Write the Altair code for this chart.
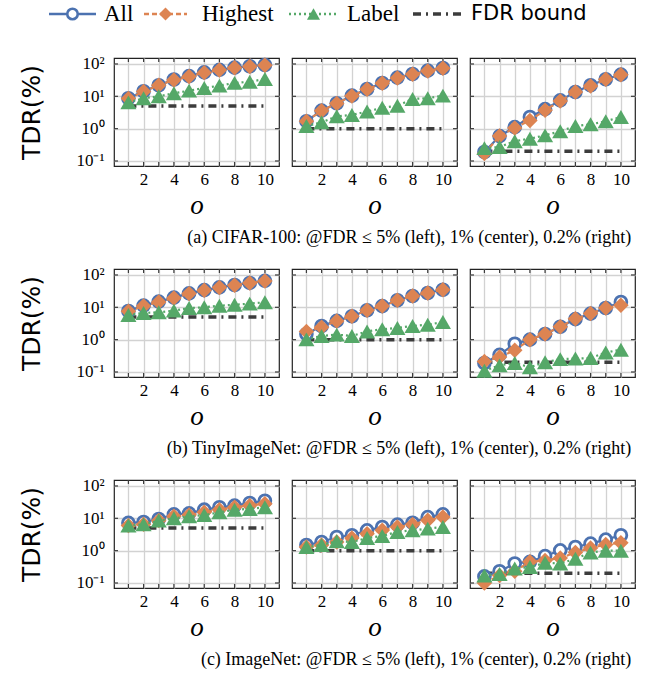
import altair as alt
import pandas as pd

# ---------------- data ----------------
X_VALUES = list(range(1, 11))
Y_TICKS = [0.1, 1, 10, 100]
FDR_BOUNDS = [5, 1, 0.2]
SERIES_NAMES = ["All", "Highest", "Label", "FDR bound"]
CAPTIONS = [
    "(a) CIFAR-100: @FDR ≤ 5% (left), 1% (center), 0.2% (right)",
    "(b) TinyImageNet: @FDR ≤ 5% (left), 1% (center), 0.2% (right)",
    "(c) ImageNet: @FDR ≤ 5% (left), 1% (center), 0.2% (right)",
]

# CIFAR-100
cifar_all_5 = [8.7, 14.3, 22, 33, 42, 55, 66, 77, 85, 93]
cifar_high_5 = [8.5, 14, 22, 32, 41, 54, 65, 76, 84, 92]
cifar_label_5 = [6.5, 8.7, 10, 12.4, 15, 18, 21.4, 26, 28, 34.5]
cifar_all_1 = [1.7, 3.6, 6.1, 10.5, 16.8, 25.9, 38, 49, 62, 75]
cifar_high_1 = [1.7, 3.6, 6.0, 10.3, 16.5, 25.5, 37, 48, 61, 74]
cifar_label_1 = [1.2, 1.57, 2.4, 2.65, 3.4, 4.4, 5.1, 8.3, 8.7, 10.5]
cifar_all_02 = [0.19, 0.59, 1.12, 2.3, 4.0, 7.5, 13.6, 22, 33.6, 46.7]
cifar_high_02 = [0.17, 0.59, 1.05, 1.8, 3.7, 7.2, 13.6, 21, 33.6, 46.7]
cifar_label_02 = [0.25, 0.27, 0.41, 0.49, 0.62, 0.83, 1.2, 1.36, 1.69, 2.3]

# TinyImageNet
tiny_all_5 = [7.7, 11.3, 15, 20, 27, 34, 41.5, 49, 56.7, 66]
tiny_high_5 = [7.5, 11, 14.7, 19.5, 26.5, 33.5, 41, 48.5, 56, 65]
tiny_label_5 = [5.8, 6.7, 7, 7.9, 9.5, 10, 11.2, 12, 13, 14.3]
tiny_all_1 = [1.5, 2.65, 3.8, 5.3, 8.1, 10.9, 16.5, 22.4, 27.7, 35]
tiny_high_1 = [1.8, 2.4, 3.8, 5.3, 8.1, 10.9, 16.5, 22.4, 27.7, 35]
tiny_label_1 = [1.02, 1.3, 1.43, 1.3, 1.8, 2.1, 2.3, 2.65, 2.9, 3.5]
tiny_all_02 = [0.19, 0.34, 0.75, 1.0, 1.5, 2.5, 4.3, 6.4, 9.5, 14.6]
tiny_high_02 = [0.21, 0.29, 0.47, 1.0, 1.5, 2.5, 4.4, 6.4, 9.5, 11.5]
tiny_label_02 = [0.11, 0.16, 0.19, 0.14, 0.2, 0.25, 0.26, 0.27, 0.4, 0.49]

# ImageNet
imnet_all_5 = [7.2, 7.7, 9.5, 13.3, 14.2, 18.5, 22, 24.6, 29.8, 35]
imnet_high_5 = [6, 6.6, 8.5, 11.5, 12.6, 15.3, 18.5, 22, 25, 28]
imnet_label_5 = [6, 6.5, 8.5, 10, 11.5, 12.6, 15.3, 18.5, 19.5, 22]
imnet_all_1 = [1.5, 1.85, 2.65, 3.0, 4.25, 5.4, 6.4, 7.3, 10.9, 13.3]
imnet_high_1 = [1.3, 1.5, 1.85, 2.45, 3.35, 4.25, 5.4, 6.4, 8.7, 10.9]
imnet_label_1 = [1.3, 1.5, 1.95, 1.85, 2.45, 2.85, 3.8, 4.25, 4.8, 5.4]
imnet_all_02 = [0.16, 0.23, 0.4, 0.45, 0.68, 1.02, 1.3, 1.65, 2.2, 3.0]
imnet_high_02 = [0.1, 0.17, 0.23, 0.45, 0.5, 0.59, 0.87, 1.2, 1.55, 1.75]
imnet_label_02 = [0.17, 0.19, 0.28, 0.31, 0.42, 0.4, 0.56, 0.87, 1.0, 1.0]

ROWS = [
    [(cifar_all_5, cifar_high_5, cifar_label_5),
     (cifar_all_1, cifar_high_1, cifar_label_1),
     (cifar_all_02, cifar_high_02, cifar_label_02)],
    [(tiny_all_5, tiny_high_5, tiny_label_5),
     (tiny_all_1, tiny_high_1, tiny_label_1),
     (tiny_all_02, tiny_high_02, tiny_label_02)],
    [(imnet_all_5, imnet_high_5, imnet_label_5),
     (imnet_all_1, imnet_high_1, imnet_label_1),
     (imnet_all_02, imnet_high_02, imnet_label_02)],
]

# ---------------- style / layout ----------------
BLUE, ORANGE, GREEN, DARK = "#4C72B0", "#DD8452", "#55A868", "#3C3C3C"
SERIF = "Liberation Serif"
SANS = "DejaVu Sans"
PW, PH = 165, 108
XDOM = [0.05, 10.93]
YDOM = [0.07, 153]
TICK_LEN = 4

Y_LABEL_EXPR = ("datum.value >= 99 ? '10²' : datum.value >= 9 ? '10¹' : "
                "datum.value >= 0.9 ? '10⁰' : '10⁻¹'")


def panel(values, fdr, first):
    all_v, high_v, lab_v = values
    xenc = alt.X(
        "x:Q",
        scale=alt.Scale(domain=XDOM, nice=False, zero=False),
        axis=alt.Axis(
            values=X_VALUES,
            labelExpr="datum.value % 2 == 0 ? datum.label : ''",
            title="o", titleFont=SERIF, titleFontStyle="italic", titleFontSize=27,
            titleFontWeight=400, titlePadding=5, titleColor="black",
            labelFont=SERIF, labelFontSize=17, labelPadding=5, labelColor="black",
            tickSize=0, domain=False, grid=True, labelFlush=False,
        ),
    )
    if first:
        yaxis = alt.Axis(
            values=Y_TICKS, tickSize=0, domain=False, grid=True,
            labelExpr=Y_LABEL_EXPR, labelFont=SERIF, labelFontSize=17,
            labelPadding=10, labelColor="black", labelFlush=False,
            title="TDR(%)", titleFont=SANS, titleFontSize=25, titleFontWeight=400,
            titleColor="black", titleX=-83, titleBaseline="middle",
        )
    else:
        yaxis = alt.Axis(values=Y_TICKS, tickSize=0, domain=False, grid=True,
                         labels=False, title=None)
    yenc = alt.Y("v:Q", scale=alt.Scale(type="log", domain=YDOM, nice=False), axis=yaxis)

    xt = pd.DataFrame({"x": X_VALUES})
    yt = pd.DataFrame({"v": Y_TICKS})
    layers = []
    # inward tick marks on all four sides
    layers.append(alt.Chart(xt).mark_rule(color=DARK, strokeWidth=1.2).encode(
        x=xenc, y=alt.value(0), y2=alt.value(TICK_LEN)))
    layers.append(alt.Chart(xt).mark_rule(color=DARK, strokeWidth=1.2).encode(
        x=xenc, y=alt.value(PH - TICK_LEN), y2=alt.value(PH)))
    layers.append(alt.Chart(yt).mark_rule(color=DARK, strokeWidth=1.2).encode(
        y=yenc, x=alt.value(0), x2=alt.value(TICK_LEN)))
    layers.append(alt.Chart(yt).mark_rule(color=DARK, strokeWidth=1.2).encode(
        y=yenc, x=alt.value(PW - TICK_LEN), x2=alt.value(PW)))

    fdf = pd.DataFrame({"x": [X_VALUES[0], X_VALUES[-1]], "v": [fdr, fdr]})
    layers.append(alt.Chart(fdf).mark_line(color=DARK, strokeWidth=3.5,
                                           strokeDash=[8, 5, 2, 5]).encode(x=xenc, y=yenc))

    da = pd.DataFrame({"x": X_VALUES, "v": all_v})
    dh = pd.DataFrame({"x": X_VALUES, "v": high_v})
    dl = pd.DataFrame({"x": X_VALUES, "v": lab_v})

    layers.append(alt.Chart(da).mark_line(color=BLUE, strokeWidth=2.2).encode(x=xenc, y=yenc))
    layers.append(alt.Chart(da).mark_point(shape="circle", filled=True, fill="white",
                                           stroke=BLUE, strokeWidth=2.8, size=140,
                                           opacity=1).encode(x=xenc, y=yenc))
    layers.append(alt.Chart(dh).mark_line(color=ORANGE, strokeWidth=2.2,
                                          strokeDash=[5, 3]).encode(x=xenc, y=yenc))
    layers.append(alt.Chart(dh).mark_point(shape="diamond", filled=True, color=ORANGE,
                                           size=240, opacity=1).encode(x=xenc, y=yenc))
    layers.append(alt.Chart(dl).mark_line(color=GREEN, strokeWidth=2.2,
                                          strokeDash=[2, 3]).encode(x=xenc, y=yenc))
    layers.append(alt.Chart(dl).mark_point(shape="triangle-up", filled=True, color=GREEN,
                                           size=260, opacity=1).encode(x=xenc, y=yenc))
    return alt.layer(*layers).properties(width=PW, height=PH)


rows = []
for r, row_vals in enumerate(ROWS):
    panels = [panel(row_vals[c], FDR_BOUNDS[c], c == 0) for c in range(3)]
    row = alt.hconcat(*panels, spacing=9).resolve_scale(x="independent", y="independent")
    row = row.properties(title=alt.TitleParams(
        CAPTIONS[r], orient="bottom", anchor="end", font=SERIF, fontSize=18,
        fontWeight=400, color="black", offset=10, dx=-5))
    rows.append(row)

# ---------------- manual legend strip (positions relative to first panel origin) ----------------
LW, LH = 480, 26
LY = 13
LEG_LINE_START = [-65, 30, 175, 299]
LEG_LINE_END = [-18, 73, 224, 347]
LEG_TEXT_X = [-10, 88, 233, 357]
leg_colors = [BLUE, ORANGE, GREEN, DARK]
leg_dash = [[1, 0], [5, 3], [2, 3], [8, 5, 2, 5]]
leg_width = [2.4, 2.4, 2.4, 3.5]
leg_fonts = [SERIF, SERIF, SERIF, SANS]
leg_fsize = [23, 23, 23, 21]

leg_layers = []
for i, name in enumerate(SERIES_NAMES):
    d = pd.DataFrame({"label": [name]})
    leg_layers.append(alt.Chart(d).mark_rule(color=leg_colors[i], strokeWidth=leg_width[i],
                                             strokeDash=leg_dash[i]).encode(
        x=alt.value(LEG_LINE_START[i]), x2=alt.value(LEG_LINE_END[i]), y=alt.value(LY)))
    mid = (LEG_LINE_START[i] + LEG_LINE_END[i]) / 2
    if i == 0:
        leg_layers.append(alt.Chart(d).mark_point(shape="circle", filled=True, fill="white",
                                                  stroke=BLUE, strokeWidth=2.6, size=110,
                                                  opacity=1).encode(x=alt.value(mid), y=alt.value(LY)))
    elif i == 1:
        leg_layers.append(alt.Chart(d).mark_point(shape="diamond", filled=True, color=ORANGE,
                                                  size=170, opacity=1).encode(x=alt.value(mid), y=alt.value(LY)))
    elif i == 2:
        leg_layers.append(alt.Chart(d).mark_point(shape="triangle-up", filled=True, color=GREEN,
                                                  size=170, opacity=1).encode(x=alt.value(mid), y=alt.value(LY)))
    leg_layers.append(alt.Chart(d).mark_text(align="left", baseline="middle", font=leg_fonts[i],
                                             fontSize=leg_fsize[i], color="black").encode(
        x=alt.value(LEG_TEXT_X[i]), y=alt.value(LY), text="label:N"))

legend = alt.layer(*leg_layers).properties(
    width=LW, height=LH, view=alt.ViewBackground(stroke="transparent"))

body = alt.vconcat(*rows, spacing=18).resolve_scale(x="independent", y="independent")
chart = alt.vconcat(legend, body, spacing=24).resolve_scale(x="independent", y="independent")
chart = chart.properties(padding={"left": 18, "top": 0, "right": 5, "bottom": 5})
chart = chart.configure(font=SERIF).configure_view(
    stroke="#222222", strokeWidth=1.2).configure_axis(gridColor="#d2d2d2", gridWidth=1.3)

chart.save("out.html", embed_options={"renderer": "svg", "actions": False})
